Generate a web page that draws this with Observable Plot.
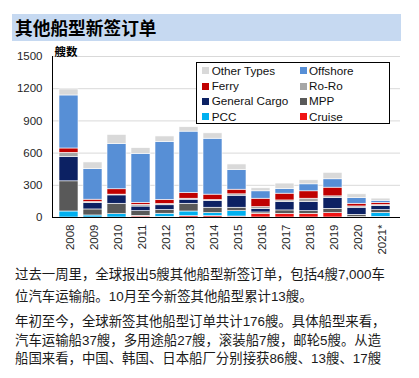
<!DOCTYPE html>
<html><head><meta charset="utf-8">
<script src="https://cdn.jsdelivr.net/npm/d3@7"></script>
<script src="https://cdn.jsdelivr.net/npm/@observablehq/plot@0.6"></script>
<style>
body{margin:0;background:#fff;width:419px;height:378px;overflow:hidden;position:relative;font-family:"Liberation Sans","Noto Sans CJK SC",sans-serif;}
#title{position:absolute;left:12px;top:14px;width:389px;height:27px;background:#C6D9F1;}
#title span{position:absolute;left:3px;top:0;line-height:27px;font-weight:bold;font-size:17.7px;font-family:"Noto Sans CJK SC",sans-serif;color:#000;}
#chart{position:absolute;left:0;top:42px;}
#legend{position:absolute;left:196px;top:62px;width:194px;height:62px;border:1px solid #000;background:#fff;box-sizing:border-box;}
#legend .sw{position:absolute;width:7px;height:7px;}
#legend .tx{position:absolute;font-size:11.7px;line-height:16px;color:#111;white-space:nowrap;}
.ln{position:absolute;left:15px;font-size:13.4px;line-height:16px;color:#1a1a1a;white-space:nowrap;font-family:"Liberation Sans","Noto Sans CJK SC",sans-serif;}
</style></head>
<body>
<div id="title"><span>其他船型新签订单</span></div>
<div id="chart"></div>
<div id="legend"></div>
<div id="text"></div>
<script>
const years = ["2008","2009","2010","2011","2012","2013","2014","2015","2016","2017","2018","2019","2020","2021*"];
const cruise   = [0,0,0,10,5,12,12,9,34,34,34,41,3,5];
const pcc      = [56,19,31,5,30,44,29,50,0,0,0,0,0,37];
const mpp      = [281,56,97,44,35,72,50,32,13,32,25,40,22,27];
const genCargo = [228,59,78,43,44,38,62,112,31,78,85,100,66,40];
const roro     = [37,10,7,16,12,9,10,13,19,15,31,16,12,7];
const ferry    = [41,22,50,19,38,53,50,43,78,63,69,81,25,20];
const offshore = [494,284,421,456,541,572,521,182,69,44,65,78,53,20];
const other    = [56,63,85,53,50,41,50,53,28,50,38,60,35,20];

const stackTypes = ["Cruise","PCC","MPP","General Cargo","Ro-Ro","Ferry","Offshore","Other Types"];
const stackSeries = [cruise,pcc,mpp,genCargo,roro,ferry,offshore,other];
const typeColors = ["#F01414","#00B0F0","#595959","#0C2163","#A6A6A6","#C00000","#578FD6","#D9D9D9"];
const legendOrder = ["Other Types","Offshore","Ferry","Ro-Ro","General Cargo","MPP","PCC","Cruise"];
const yTicks = [0,300,600,900,1200,1500];

const rows = [];
years.forEach((yr,i)=>{
  stackTypes.forEach((t,j)=>rows.push({year:yr,type:t,value:stackSeries[j][i]}));
});

const chart = Plot.plot({
  width:419, height:225,
  marginTop:14, marginBottom:50, marginLeft:52, marginRight:19,
  style:{fontFamily:'"Liberation Sans","Noto Sans CJK SC",sans-serif', color:"#262626", background:"transparent"},
  x:{type:"band", domain:years, range:[52,396], paddingInner:0.22, paddingOuter:0.11, axis:null},
  y:{domain:[0,1500], axis:null},
  color:{domain:stackTypes, range:typeColors},
  marks:[
    Plot.gridY([300,600,900,1200,1500], {stroke:"#D9D9D9", strokeOpacity:1}),
    Plot.barY(rows, {x:"year", y:"value", fill:"type", stroke:"white", strokeWidth:0.6}),
    Plot.axisY(yTicks, {tickSize:0, tickPadding:10, fontSize:11.5, label:null, tickFormat:d=>String(d)}),
    Plot.frame({anchor:"left", stroke:"#000"}),
    Plot.ruleY([0], {stroke:"#000", strokeWidth:1.2}),
    Plot.text(years, {x:d=>d, frameAnchor:"bottom", rotate:-90, textAnchor:"end", lineAnchor:"middle", dy:7, dx:1, fontSize:11.5, fill:"#262626"}),
    Plot.text(["艘数"], {frameAnchor:"top-left", textAnchor:"start", lineAnchor:"bottom", dx:2, dy:-1, fontSize:11.5, fontWeight:"bold", fill:"#000", fontFamily:'"Noto Sans CJK SC",sans-serif'})
  ]
});
document.getElementById("chart").appendChild(chart);

// legend
const lg = document.getElementById("legend");
const colOf = Object.fromEntries(stackTypes.map((t,i)=>[t,typeColors[i]]));
legendOrder.forEach((t,i)=>{
  const col = i%2, row = Math.floor(i/2);
  const cy = 7.7 + row*15.3;
  const sx = col===0 ? 5.3 : 103;
  const tx = col===0 ? 14.7 : 112;
  const sw = document.createElement("div");
  sw.className="sw"; sw.style.left=sx+"px"; sw.style.top=(cy-3.5)+"px"; sw.style.background=colOf[t];
  const tt = document.createElement("div");
  tt.className="tx"; tt.style.left=tx+"px"; tt.style.top=(cy-8)+"px"; tt.textContent=t;
  lg.appendChild(sw); lg.appendChild(tt);
});

// paragraph lines
const lines = [
  ["过去一周里，全球报出5艘其他船型新签订单，包括4艘7,000车",275.3],
  ["位汽车运输船。10月至今新签其他船型累计13艘。",297],
  ["年初至今，全球新签其他船型订单共计176艘。具体船型来看，",322.2],
  ["汽车运输船37艘，多用途船27艘，滚装船7艘，邮轮5艘。从造",340.5],
  ["船国来看，中国、韩国、日本船厂分别接获86艘、13艘、17艘",358.7]
];
const tdiv = document.getElementById("text");
lines.forEach(([s,cy])=>{
  const d=document.createElement("div"); d.className="ln"; d.style.top=(cy-8)+"px"; d.textContent=s; tdiv.appendChild(d);
});
</script>
</body></html>
